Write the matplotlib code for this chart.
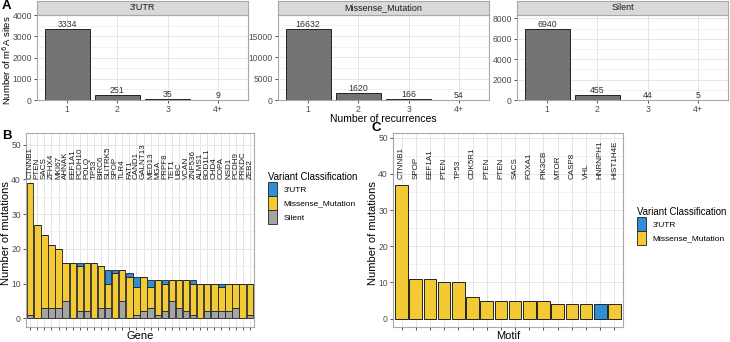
"""Recreate the m6A recurrence / mutation summary figure (panels A-C)."""

import matplotlib.pyplot as plt
from matplotlib.patches import Patch
from matplotlib.ticker import MultipleLocator
import numpy as np

plt.rcParams["font.family"] = ["Liberation Sans", "DejaVu Sans"]

# ---- panel A: recurrence counts per variant class
recurrence_bins = ["1", "2", "3", "4+"]
facet_names = ["3'UTR", "Missense_Mutation", "Silent"]
utr_counts = [3334, 251, 35, 9]
missense_counts = [16632, 1620, 166, 54]
silent_counts = [6940, 455, 44, 5]

# ---- panel B: mutations per gene
genes = ["CTNNB1", "PTEN", "SACS", "ZFHX4", "MKI67", "AHNAK", "EEF1A1", "PCDH10",
         "POLQ", "TP53", "BIRC6", "SLITRK5", "SPOP", "TLR4", "FAT1", "CAND1",
         "GALNT13", "MED13", "MGA", "PRPF8", "TET1", "UBC", "VCAN", "ZNF536",
         "ALMS1", "BOD1L1", "CHD4", "COPA", "NSD1", "PCDH9", "PRKDC", "ZEB2"]
gene_silent = [1, 0, 3, 3, 3, 5, 0, 2, 2, 0, 3, 3, 0, 5, 0, 1,
               2, 3, 1, 2, 5, 3, 2, 1, 0, 2, 2, 2, 2, 3, 0, 1]
gene_missense = [38, 27, 21, 18, 17, 11, 16, 13, 14, 16, 12, 7, 13, 9, 12, 8,
                 10, 6, 10, 8, 6, 8, 9, 9, 10, 8, 8, 7, 8, 7, 10, 9]
gene_utr = [0, 0, 0, 0, 0, 0, 0, 1, 0, 0, 0, 4, 1, 0, 1, 3,
            0, 2, 0, 1, 0, 0, 0, 1, 0, 0, 0, 1, 0, 0, 0, 0]

# ---- panel C: mutations per motif
motifs = ["CTNNB1", "SPOP", "EEF1A1", "PTEN", "TP53", "CDK5R1", "PTEN", "PTEN",
          "SACS", "FOXA1", "PIK3CB", "MTOR", "CASP8", "VHL", "HNRNPH1", "HIST1H4E"]
motif_counts = [37, 11, 11, 10, 10, 6, 5, 5, 5, 5, 5, 4, 4, 4, 4, 4]
motif_class = ["Missense_Mutation"] * 14 + ["3'UTR", "Missense_Mutation"]

colors = {"3'UTR": "#2F8FD6", "Missense_Mutation": "#F3CA33", "Silent": "#A4A4A4"}
EDGE = "#222222"
GRID = "#E6E6E6"
TICK_COLOR = "#4D4D4D"
BORDER = "#A8A8A8"
FW, FH = 730.0, 342.0


def style_axes(ax, tick_size=6.2):
    for s in ax.spines.values():
        s.set_color(BORDER)
        s.set_linewidth(0.8)
    ax.tick_params(axis="both", labelsize=tick_size, colors="#333333",
                   labelcolor=TICK_COLOR, length=2.5, width=0.6, pad=1.2)
    ax.tick_params(which="minor", length=0)
    ax.grid(True, which="major", color=GRID, linewidth=0.7)
    ax.grid(True, which="minor", color=GRID, linewidth=0.4)
    ax.set_axisbelow(True)


def fig_label_coords(fig, axis, x_px, y_px):
    axis.set_label_coords(x_px / FW, 1 - y_px / FH, transform=fig.transFigure)


def plot_recurrence_facet(fig, rect, name, counts):
    ax = fig.add_axes(rect)
    x = np.arange(1, len(recurrence_bins) + 1)
    ax.bar(x, counts, width=0.9, color="#737373", edgecolor=EDGE, linewidth=0.7)
    for xi, c in zip(x, counts):
        ax.text(xi, c, str(c), ha="center", va="bottom", fontsize=6.3, color="#333333")
    ax.set_xlim(0.4, 4.6)
    ax.set_ylim(0, max(counts) * 1.2)
    ax.set_xticks(x)
    ax.set_xticklabels(recurrence_bins)
    step = {3334: 1000, 16632: 5000, 6940: 2000}[max(counts)]
    ax.yaxis.set_major_locator(MultipleLocator(step))
    ax.yaxis.set_minor_locator(MultipleLocator(step / 2))
    style_axes(ax)

    # facet strip
    strip = fig.add_axes([rect[0], rect[1] + rect[3], rect[2], 0.041])
    strip.set_facecolor("#D9D9D9")
    strip.set_xticks([])
    strip.set_yticks([])
    for s in strip.spines.values():
        s.set_color(BORDER)
        s.set_linewidth(0.8)
    strip.text(0.5, 0.5, name, ha="center", va="center", fontsize=6.5,
               color="#1A1A1A", transform=strip.transAxes)
    return ax


def plot_gene_stack(fig, ax):
    x = np.arange(1, len(genes) + 1)
    silent = np.array(gene_silent)
    missense = np.array(gene_missense)
    utr = np.array(gene_utr)
    ax.bar(x, silent, width=0.9, color=colors["Silent"], edgecolor=EDGE, linewidth=0.6)
    ax.bar(x, missense, bottom=silent, width=0.9, color=colors["Missense_Mutation"],
           edgecolor=EDGE, linewidth=0.6)
    ax.bar(x, utr, bottom=silent + missense, width=0.9, color=colors["3'UTR"],
           edgecolor=EDGE, linewidth=0.6)
    label_y = (silent + missense + utr).max() + 1
    for xi, g in zip(x, genes):
        ax.text(xi, label_y, g, rotation=90, ha="center", va="bottom",
                fontsize=5.8, color="#1A1A1A")
    ax.set_xlim(0.4, len(genes) + 0.6)
    ax.set_ylim(-2.5, 53.5)
    ax.set_xticks(x)
    ax.set_xticklabels([])
    ax.yaxis.set_major_locator(MultipleLocator(10))
    ax.yaxis.set_minor_locator(MultipleLocator(5))
    style_axes(ax)
    ax.set_xlabel("Gene", fontsize=8, va="center")
    ax.set_ylabel("Number of mutations", fontsize=8, va="center")
    fig_label_coords(fig, ax.xaxis, 140, 336)
    fig_label_coords(fig, ax.yaxis, 6, 233)


def plot_motifs(fig, ax):
    x = np.arange(1, len(motifs) + 1)
    cs = [colors[c] for c in motif_class]
    ax.bar(x, motif_counts, width=0.9, color=cs, edgecolor=EDGE, linewidth=0.7)
    label_y = max(motif_counts) + 1.5
    for xi, m in zip(x, motifs):
        ax.text(xi, label_y, m, rotation=90, ha="center", va="bottom",
                fontsize=5.8, color="#1A1A1A")
    ax.set_xlim(0.4, len(motifs) + 0.6)
    ax.set_ylim(-2.3, 51.3)
    ax.set_xticks(x)
    ax.set_xticklabels([])
    ax.yaxis.set_major_locator(MultipleLocator(10))
    ax.yaxis.set_minor_locator(MultipleLocator(5))
    style_axes(ax)
    ax.set_xlabel("Motif", fontsize=8, va="center")
    ax.set_ylabel("Number of mutations", fontsize=8, va="center")
    fig_label_coords(fig, ax.xaxis, 508, 336)
    fig_label_coords(fig, ax.yaxis, 373, 233)


def add_legend(fig, anchor, classes):
    handles = [Patch(facecolor=colors[c], edgecolor=EDGE, linewidth=0.6, label=c)
               for c in classes]
    leg = fig.legend(handles=handles, title="Variant Classification", loc="upper left",
                     bbox_to_anchor=anchor, frameon=False, fontsize=6.0,
                     title_fontsize=6.9, handlelength=1.1, handleheight=2.2,
                     handletextpad=0.8, labelspacing=0.0, borderaxespad=0,
                     borderpad=0)
    leg._legend_box.align = "left"


def main():
    fig = plt.figure(figsize=(7.3, 3.42), dpi=100)

    facet_lefts = [37, 278, 517]
    facet_w = 211 / FW
    bottom = 1 - 100 / FH
    height = 85 / FH
    axes_a = []
    for left, name, counts in zip(facet_lefts, facet_names,
                                  [utr_counts, missense_counts, silent_counts]):
        axes_a.append(plot_recurrence_facet(fig, [left / FW, bottom, facet_w, height],
                                            name, counts))
    axes_a[0].set_ylabel("Number of m$^6$A sites", fontsize=6.8, va="center")
    fig_label_coords(fig, axes_a[0].yaxis, 7, 60)
    fig.text(383 / FW, 1 - 118.5 / FH, "Number of recurrences", ha="center",
             va="center", fontsize=7.5)

    ax_b = fig.add_axes([26 / FW, 1 - 327 / FH, 228 / FW, 194.5 / FH])
    plot_gene_stack(fig, ax_b)
    add_legend(fig, (268 / FW, 1 - 172 / FH), ["3'UTR", "Missense_Mutation", "Silent"])

    ax_c = fig.add_axes([393 / FW, 1 - 327 / FH, 230 / FW, 194 / FH])
    plot_motifs(fig, ax_c)
    add_legend(fig, (637 / FW, 1 - 207 / FH), ["3'UTR", "Missense_Mutation"])

    for letter, (x, y) in zip("ABC", [(2, 6), (2, 136), (371, 128)]):
        fig.text(x / FW, 1 - y / FH, letter, fontsize=9.5, fontweight="bold",
                 ha="left", va="center")

    fig.savefig("out.png", dpi=100)


if __name__ == "__main__":
    main()
